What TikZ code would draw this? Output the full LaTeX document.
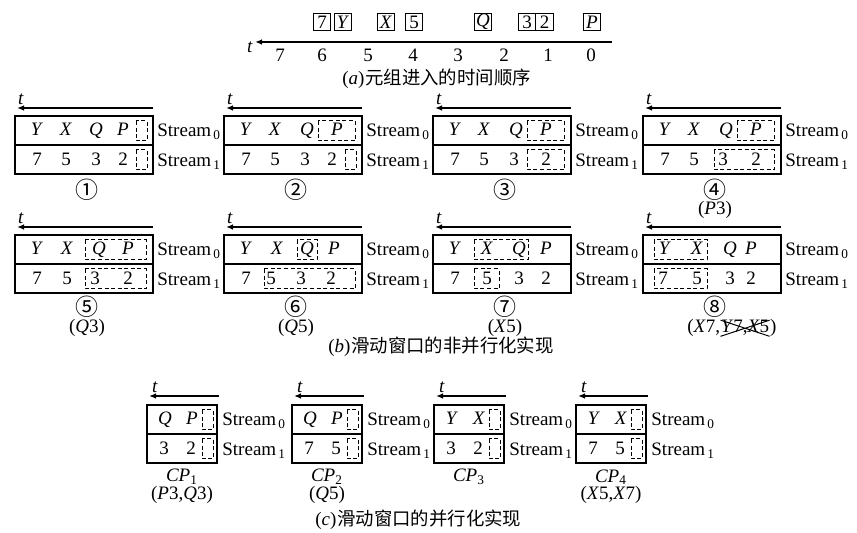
\documentclass[tikz,border=0pt]{standalone}
\usepackage{fontspec}
\setmainfont{Liberation Serif}
\newfontfamily\cjk{Noto Sans CJK SC}
\usetikzlibrary{positioning,arrows.meta}

\begin{document}
\begin{tikzpicture}[
  x=0.5pt, y=-0.5pt,
  font=\fontsize{9.5}{11}\selectfont,
  every node/.style={inner sep=0pt},
  tup/.style   ={rectangle, draw=black, line width=0.5pt,
                 minimum width=8.8pt, minimum height=8.8pt},
  frame/.style ={rectangle, draw=black, line width=0.6pt,
                 minimum width=69pt, minimum height=29pt},
  cframe/.style={rectangle, draw=black, line width=0.6pt,
                 minimum width=35pt, minimum height=29pt},
  ent/.style   ={anchor=base},
  strm/.style  ={anchor=base west},
  num/.style   ={font=\cjk\fontsize{11.5}{12}\selectfont},
  zh/.style    ={font=\cjk\fontsize{9.2}{11}\selectfont, anchor=base west},
  win/.style   ={draw=black, line width=0.6pt},
  slot/.style  ={draw=black, line width=0.5pt, dash pattern=on 2pt off 1.3pt},
  tarrow/.style={-{Latex[length=3.5pt,width=2.8pt]}, line width=0.9pt},
]
\useasboundingbox (0,0) rectangle (857,533);

% -------- (a) time order ----------------------------------------------------
\node[tup] (a7)  at (322,22) {7};
\node[tup] (ay)  at (343,22) {\textit{Y}};
\node[tup] (ax)  at (386,22) {\textit{X}};
\node[tup] (a5)  at (414,22) {5};
\node[tup] (aq)  at (483,22) {\textit{Q}};
\node[tup] (a3)  at (527,22) {3};
\node[tup] (a2)  at (544.6,22) {2};
\node[tup] (ap)  at (592,22) {\textit{P}};
\coordinate (tar) at (612,42);
\coordinate (tal) at (255,42);
\draw[tarrow] (tar) -- (tal);
\node[ent] (tat) at (250,53) {\textit{t}};
\node[ent] (n7) at (280,62) {7};
\node[ent] (n6) at (322,62) {6};
\node[ent] (n5) at (368,62) {5};
\node[ent] (n4) at (413,62) {4};
\node[ent] (n3) at (458,62) {3};
\node[ent] (n2) at (504,62) {2};
\node[ent] (n1) at (548,62) {1};
\node[ent] (n0) at (591,62) {0};
\node[anchor=base west] (capa) at (342,85) {(\textit{a})};
\node[zh, base right=0pt of capa] (capaz) {元组进入的时间顺序};

% -------- (b) non-parallel sliding window -----------------------------------
% panel 1
\begin{scope}[shift={(15,116)}]
  \node[frame] (w1) at (69,29) {};
  \draw[win] (w1.west) -- (w1.east);
  \coordinate (w1r) at (138,-8); \coordinate (w1l) at (2,-8);
  \draw[tarrow] (w1r) -- (w1l);
  \node[ent] (w1t) at (6,-11) {\textit{t}};
  \node[ent] (w1y) at (22,20) {\textit{Y}};
  \node[ent] (w1x) at (51,20) {\textit{X}};
  \node[ent] (w1q) at (81,20) {\textit{Q}};
  \node[ent] (w1p) at (108,20) {\textit{P}};
  \node[ent] (w17) at (22,50) {7};
  \node[ent] (w15) at (51,50) {5};
  \node[ent] (w13) at (81,50) {3};
  \node[ent] (w12) at (108,50) {2};
  \draw[slot] (121,5) rectangle (132,25);
  \draw[slot] (121,34) rectangle (132,54);
  \node[strm] (w1s0) at (142,21) {Stream\textsubscript{\,0}};
  \node[strm] (w1s1) at (142,51) {Stream\textsubscript{\,1}};
  \node[num] (w1c) at (72,74) {①};
\end{scope}

% panel 2
\begin{scope}[shift={(224,116)}]
  \node[frame] (w2) at (69,29) {};
  \draw[win] (w2.west) -- (w2.east);
  \coordinate (w2r) at (138,-8); \coordinate (w2l) at (2,-8);
  \draw[tarrow] (w2r) -- (w2l);
  \node[ent] (w2t) at (6,-11) {\textit{t}};
  \node[ent] (w2y) at (22,20) {\textit{Y}};
  \node[ent] (w2x) at (51,20) {\textit{X}};
  \node[ent] (w2q) at (83,20) {\textit{Q}};
  \node[ent] (w2p) at (113,20) {\textit{P}};
  \node[ent] (w27) at (22,50) {7};
  \node[ent] (w25) at (51,50) {5};
  \node[ent] (w23) at (81,50) {3};
  \node[ent] (w22) at (108,50) {2};
  \draw[slot] (94,5) rectangle (131,25);
  \draw[slot] (121,34) rectangle (132,54);
  \node[strm] (w2s0) at (142,21) {Stream\textsubscript{\,0}};
  \node[strm] (w2s1) at (142,51) {Stream\textsubscript{\,1}};
  \node[num] (w2c) at (72,74) {②};
\end{scope}

% panel 3
\begin{scope}[shift={(433,116)}]
  \node[frame] (w3) at (69,29) {};
  \draw[win] (w3.west) -- (w3.east);
  \coordinate (w3r) at (138,-8); \coordinate (w3l) at (2,-8);
  \draw[tarrow] (w3r) -- (w3l);
  \node[ent] (w3t) at (6,-11) {\textit{t}};
  \node[ent] (w3y) at (22,20) {\textit{Y}};
  \node[ent] (w3x) at (51,20) {\textit{X}};
  \node[ent] (w3q) at (83,20) {\textit{Q}};
  \node[ent] (w3p) at (113,20) {\textit{P}};
  \node[ent] (w37) at (22,50) {7};
  \node[ent] (w35) at (51,50) {5};
  \node[ent] (w33) at (81,50) {3};
  \node[ent] (w32) at (113,50) {2};
  \draw[slot] (94,5) rectangle (131,25);
  \draw[slot] (94,34) rectangle (131,54);
  \node[strm] (w3s0) at (142,21) {Stream\textsubscript{\,0}};
  \node[strm] (w3s1) at (142,51) {Stream\textsubscript{\,1}};
  \node[num] (w3c) at (72,74) {③};
\end{scope}

% panel 4
\begin{scope}[shift={(643,116)}]
  \node[frame] (w4) at (69,29) {};
  \draw[win] (w4.west) -- (w4.east);
  \coordinate (w4r) at (138,-8); \coordinate (w4l) at (2,-8);
  \draw[tarrow] (w4r) -- (w4l);
  \node[ent] (w4t) at (6,-11) {\textit{t}};
  \node[ent] (w4y) at (22,20) {\textit{Y}};
  \node[ent] (w4x) at (51,20) {\textit{X}};
  \node[ent] (w4q) at (83,20) {\textit{Q}};
  \node[ent] (w4p) at (113,20) {\textit{P}};
  \node[ent] (w47) at (22,50) {7};
  \node[ent] (w45) at (51,50) {5};
  \node[ent] (w43) at (80,50) {3};
  \node[ent] (w42) at (113,50) {2};
  \draw[slot] (94,5) rectangle (131,25);
  \draw[slot] (71,34) rectangle (131,54);
  \node[strm] (w4s0) at (142,21) {Stream\textsubscript{\,0}};
  \node[strm] (w4s1) at (142,51) {Stream\textsubscript{\,1}};
  \node[num] (w4c) at (72,74) {④};
  \node[ent] (w4e) at (72,99) {(\textit{P}3)};
\end{scope}

% panel 5
\begin{scope}[shift={(15,235)}]
  \node[frame] (w5) at (69,29) {};
  \draw[win] (w5.west) -- (w5.east);
  \coordinate (w5r) at (138,-8); \coordinate (w5l) at (2,-8);
  \draw[tarrow] (w5r) -- (w5l);
  \node[ent] (w5t) at (6,-11) {\textit{t}};
  \node[ent] (w5y) at (22,20) {\textit{Y}};
  \node[ent] (w5x) at (52,20) {\textit{X}};
  \node[ent] (w5q) at (84,20) {\textit{Q}};
  \node[ent] (w5p) at (113,20) {\textit{P}};
  \node[ent] (w57) at (22,50) {7};
  \node[ent] (w55) at (52,50) {5};
  \node[ent] (w53) at (80,50) {3};
  \node[ent] (w52) at (113,50) {2};
  \draw[slot] (70,5) rectangle (131,25);
  \draw[slot] (70,34) rectangle (131,54);
  \node[strm] (w5s0) at (142,21) {Stream\textsubscript{\,0}};
  \node[strm] (w5s1) at (142,51) {Stream\textsubscript{\,1}};
  \node[num] (w5c) at (72,72) {⑤};
  \node[ent] (w5e) at (72,98) {(\textit{Q}3)};
\end{scope}

% panel 6
\begin{scope}[shift={(224,235)}]
  \node[frame] (w6) at (69,29) {};
  \draw[win] (w6.west) -- (w6.east);
  \coordinate (w6r) at (138,-8); \coordinate (w6l) at (2,-8);
  \draw[tarrow] (w6r) -- (w6l);
  \node[ent] (w6t) at (6,-11) {\textit{t}};
  \node[ent] (w6y) at (22,20) {\textit{Y}};
  \node[ent] (w6x) at (53,20) {\textit{X}};
  \node[ent] (w6q) at (83,20) {\textit{Q}};
  \node[ent] (w6p) at (110,20) {\textit{P}};
  \node[ent] (w67) at (22,50) {7};
  \node[ent] (w65) at (47,50) {5};
  \node[ent] (w63) at (77,50) {3};
  \node[ent] (w62) at (107,50) {2};
  \draw[slot] (73,5) rectangle (93,25);
  \draw[slot] (40,34) rectangle (131,54);
  \node[strm] (w6s0) at (142,21) {Stream\textsubscript{\,0}};
  \node[strm] (w6s1) at (142,51) {Stream\textsubscript{\,1}};
  \node[num] (w6c) at (72,72) {⑥};
  \node[ent] (w6e) at (72,98) {(\textit{Q}5)};
\end{scope}

% panel 7
\begin{scope}[shift={(433,235)}]
  \node[frame] (w7) at (69,29) {};
  \draw[win] (w7.west) -- (w7.east);
  \coordinate (w7r) at (138,-8); \coordinate (w7l) at (2,-8);
  \draw[tarrow] (w7r) -- (w7l);
  \node[ent] (w7t) at (6,-11) {\textit{t}};
  \node[ent] (w7y) at (22,20) {\textit{Y}};
  \node[ent] (w7x) at (54,20) {\textit{X}};
  \node[ent] (w7q) at (86,20) {\textit{Q}};
  \node[ent] (w7p) at (113,20) {\textit{P}};
  \node[ent] (w77) at (22,50) {7};
  \node[ent] (w75) at (54,50) {5};
  \node[ent] (w73) at (86,50) {3};
  \node[ent] (w72) at (113,50) {2};
  \draw[slot] (41,5) rectangle (95,25);
  \draw[slot] (41,34) rectangle (66,54);
  \node[strm] (w7s0) at (142,21) {Stream\textsubscript{\,0}};
  \node[strm] (w7s1) at (142,51) {Stream\textsubscript{\,1}};
  \node[num] (w7c) at (72,72) {⑦};
  \node[ent] (w7e) at (72,98) {(\textit{X}5)};
\end{scope}

% panel 8
\begin{scope}[shift={(643,235)}]
  \node[frame] (w8) at (69,29) {};
  \draw[win] (w8.west) -- (w8.east);
  \coordinate (w8r) at (138,-8); \coordinate (w8l) at (2,-8);
  \draw[tarrow] (w8r) -- (w8l);
  \node[ent] (w8t) at (6,-11) {\textit{t}};
  \node[ent] (w8y) at (22,20) {\textit{Y}};
  \node[ent] (w8x) at (54,20) {\textit{X}};
  \node[ent] (w8q) at (87,20) {\textit{Q}};
  \node[ent] (w8p) at (108,20) {\textit{P}};
  \node[ent] (w87) at (20,50) {7};
  \node[ent] (w85) at (54,50) {5};
  \node[ent] (w83) at (87,50) {3};
  \node[ent] (w82) at (108,50) {2};
  \draw[slot] (11,5) rectangle (64,25);
  \draw[slot] (11,34) rectangle (64,54);
  \node[strm] (w8s0) at (142,21) {Stream\textsubscript{\,0}};
  \node[strm] (w8s1) at (142,51) {Stream\textsubscript{\,1}};
  \node[num] (w8c) at (72,72) {⑧};
  \node[anchor=base west] (w8ea) at (44,98) {(\textit{X}7,};
  \node[base right=0pt of w8ea] (w8eb) {\textit{Y}7,\textit{X}5};
  \node[base right=0pt of w8eb] (w8ec) {)};
  % crossed out
  \draw[line width=0.5pt] (w8eb.south west) -- (w8eb.north east)
                          (w8eb.north west) -- (w8eb.south east);
\end{scope}

\node[anchor=base west] (capb) at (328,353) {(\textit{b})};
\node[zh, base right=0pt of capb] (capbz) {滑动窗口的非并行化实现};

% -------- (c) parallel sliding window ---------------------------------------
\begin{scope}[shift={(147,405)}]
  \node[cframe] (c1) at (35,29) {};
  \draw[win] (c1.west) -- (c1.east);
  \coordinate (c1r) at (72,-9); \coordinate (c1l) at (2,-9);
  \draw[tarrow] (c1r) -- (c1l);
  \node[ent] (c1t) at (8,-12) {\textit{t}};
  \node[ent] (c1q) at (18,20) {\textit{Q}};
  \node[ent] (c1p) at (45,20) {\textit{P}};
  \node[ent] (c13) at (17,50) {3};
  \node[ent] (c12) at (44,50) {2};
  \draw[slot] (55,5) rectangle (66,25);
  \draw[slot] (55,34) rectangle (66,54);
  \node[strm] (c1s0) at (75,21) {Stream\textsubscript{\,0}};
  \node[strm] (c1s1) at (75,51) {Stream\textsubscript{\,1}};
  \node (c1n) at (35,72) {\textit{CP}\textsubscript{1}};
  \node[ent] (c1e) at (35,95) {(\textit{P}3,\textit{Q}3)};
\end{scope}

\begin{scope}[shift={(292,405)}]
  \node[cframe] (c2) at (35,29) {};
  \draw[win] (c2.west) -- (c2.east);
  \coordinate (c2r) at (72,-9); \coordinate (c2l) at (2,-9);
  \draw[tarrow] (c2r) -- (c2l);
  \node[ent] (c2t) at (8,-12) {\textit{t}};
  \node[ent] (c2q) at (18,20) {\textit{Q}};
  \node[ent] (c2p) at (45,20) {\textit{P}};
  \node[ent] (c27) at (17,50) {7};
  \node[ent] (c25) at (44,50) {5};
  \draw[slot] (55,5) rectangle (66,25);
  \draw[slot] (55,34) rectangle (66,54);
  \node[strm] (c2s0) at (75,21) {Stream\textsubscript{\,0}};
  \node[strm] (c2s1) at (75,51) {Stream\textsubscript{\,1}};
  \node (c2n) at (35,72) {\textit{CP}\textsubscript{2}};
  \node[ent] (c2e) at (35,95) {(\textit{Q}5)};
\end{scope}

\begin{scope}[shift={(434,405)}]
  \node[cframe] (c3) at (35,29) {};
  \draw[win] (c3.west) -- (c3.east);
  \coordinate (c3r) at (72,-9); \coordinate (c3l) at (2,-9);
  \draw[tarrow] (c3r) -- (c3l);
  \node[ent] (c3t) at (8,-12) {\textit{t}};
  \node[ent] (c3y) at (18,20) {\textit{Y}};
  \node[ent] (c3x) at (45,20) {\textit{X}};
  \node[ent] (c33) at (17,50) {3};
  \node[ent] (c32) at (44,50) {2};
  \draw[slot] (55,5) rectangle (66,25);
  \draw[slot] (55,34) rectangle (66,54);
  \node[strm] (c3s0) at (75,21) {Stream\textsubscript{\,0}};
  \node[strm] (c3s1) at (75,51) {Stream\textsubscript{\,1}};
  \node (c3n) at (35,72) {\textit{CP}\textsubscript{3}};
\end{scope}

\begin{scope}[shift={(576,405)}]
  \node[cframe] (c4) at (35,29) {};
  \draw[win] (c4.west) -- (c4.east);
  \coordinate (c4r) at (72,-9); \coordinate (c4l) at (2,-9);
  \draw[tarrow] (c4r) -- (c4l);
  \node[ent] (c4t) at (8,-12) {\textit{t}};
  \node[ent] (c4y) at (18,20) {\textit{Y}};
  \node[ent] (c4x) at (45,20) {\textit{X}};
  \node[ent] (c47) at (17,50) {7};
  \node[ent] (c45) at (44,50) {5};
  \draw[slot] (55,5) rectangle (66,25);
  \draw[slot] (55,34) rectangle (66,54);
  \node[strm] (c4s0) at (75,21) {Stream\textsubscript{\,0}};
  \node[strm] (c4s1) at (75,51) {Stream\textsubscript{\,1}};
  \node (c4n) at (35,72) {\textit{CP}\textsubscript{4}};
  \node[ent] (c4e) at (35,95) {(\textit{X}5,\textit{X}7)};
\end{scope}

\node[anchor=base west] (capc) at (315,526) {(\textit{c})};
\node[zh, base right=0pt of capc] (capcz) {滑动窗口的并行化实现};

\end{tikzpicture}
\end{document}
